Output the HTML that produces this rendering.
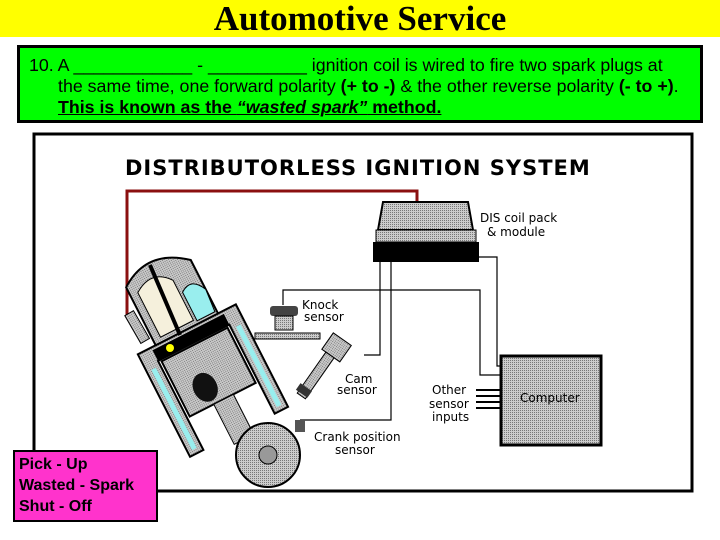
<!DOCTYPE html>
<html><head><meta charset="utf-8"><style>
body{margin:0;width:720px;height:540px;background:#fff;position:relative;overflow:hidden;font-family:"Liberation Sans",sans-serif}
#hdr{position:absolute;left:0;top:0;width:720px;height:37px;background:#ffff00;text-align:center;font-family:"Liberation Serif",serif;font-weight:bold;font-size:35px;line-height:38px}
#q{position:absolute;left:17px;top:45px;width:680px;height:72px;background:#00ff00;border:3px solid #000;font-size:17.8px;line-height:21px}
#q div{position:absolute;left:9px;top:7px;width:676px;white-space:nowrap}
#q span{padding-left:29px}
#pk{position:absolute;left:13px;top:450px;background:#ff33cc;border:2px solid #000;font-size:16px;line-height:21px;padding:2px 0 0 4px;box-sizing:border-box;width:145px;height:72px}
</style></head><body>
<div id="hdr">Automotive Service</div>
<div id="q"><div>10. A ____________ - __________ ignition coil is wired to fire two spark plugs at<br><span></span>the same time, one forward polarity <b>(+ to -)</b> &amp; the other reverse polarity <b>(- to +)</b>.<br><span></span><b><u>This is known as the <i>“wasted spark”</i> method.</u></b></div></div>
<svg width="720" height="540" style="position:absolute;left:0;top:0">
<defs><pattern id="g" width="2" height="2" patternUnits="userSpaceOnUse"><rect width="2" height="2" fill="#ccc"/><rect width="1" height="1" fill="#777"/></pattern></defs>
<rect x="34" y="134" width="658" height="357" fill="none" stroke="#000" stroke-width="3"/>
<text x="125" y="175" font-family="DejaVu Sans" font-weight="bold" font-size="21" letter-spacing="1">DISTRIBUTORLESS IGNITION SYSTEM</text>
<polyline points="127,315 127,191 417,191 417,206" fill="none" stroke="#8b1010" stroke-width="3"/>
<path d="M383,202 H468 L473,230 H378 Z" fill="url(#g)" stroke="#000" stroke-width="2"/>
<rect x="376" y="230" width="100" height="12" fill="url(#g)" stroke="#000"/>
<rect x="373" y="242" width="106" height="20" fill="#000"/>
<text x="480" y="222" font-size="12" font-family="DejaVu Sans">DIS coil pack</text>
<text x="487" y="236" font-size="12" font-family="DejaVu Sans">&amp; module</text>
<g fill="none" stroke="#000" stroke-width="1.2">
<polyline points="380,262 380,355 364,355"/>
<polyline points="391,262 391,420 300,420"/>
<polyline points="283,305 283,290 480,290 480,375 500,375"/>
<polyline points="476,257 497,257 497,366 500,366"/>
<line x1="476" y1="390" x2="500" y2="390" stroke-width="2"/><line x1="476" y1="396" x2="500" y2="396" stroke-width="2"/><line x1="476" y1="402" x2="500" y2="402" stroke-width="2"/><line x1="476" y1="408" x2="500" y2="408" stroke-width="2"/>
</g>
<rect x="501" y="356" width="100" height="89" fill="url(#g)" stroke="#000" stroke-width="3"/>
<text x="520" y="402" font-size="12" font-family="DejaVu Sans">Computer</text>
<text x="432" y="394" font-size="12" font-family="DejaVu Sans">Other</text>
<text x="429" y="408" font-size="12" font-family="DejaVu Sans">sensor</text>
<text x="432" y="421" font-size="12" font-family="DejaVu Sans">inputs</text>
<text x="302" y="309" font-size="12" font-family="DejaVu Sans">Knock</text>
<text x="304" y="321" font-size="12" font-family="DejaVu Sans">sensor</text>
<text x="345" y="383" font-size="12" font-family="DejaVu Sans">Cam</text>
<text x="337" y="394" font-size="12" font-family="DejaVu Sans">sensor</text>
<text x="314" y="441" font-size="12" font-family="DejaVu Sans">Crank position</text>
<text x="335" y="454" font-size="12" font-family="DejaVu Sans">sensor</text>
<rect x="270" y="306" width="28" height="10" rx="3" fill="#444"/><rect x="275" y="316" width="18" height="14" fill="url(#g)" stroke="#000"/>
<rect x="255" y="333" width="65" height="6" fill="url(#g)" stroke="#000"/>
<g transform="rotate(35 330 355)"><rect x="320" y="335" width="22" height="20" fill="url(#g)" stroke="#000"/><rect x="325" y="355" width="10" height="50" fill="url(#g)" stroke="#000"/><rect x="322" y="395" width="14" height="8" fill="#333"/></g>
<g transform="rotate(-27 205 365)">
<path d="M150,325 V440 H165 V340 H245 V440 H260 V325 Z" fill="url(#g)" stroke="#000" stroke-width="2"/>
<rect x="155" y="345" width="5" height="90" fill="#9ee"/><rect x="250" y="345" width="5" height="90" fill="#9ee"/>
<rect x="168" y="342" width="74" height="62" fill="url(#g)" stroke="#000" stroke-width="2"/>
<rect x="165" y="328" width="80" height="12" fill="#000"/>
<ellipse cx="195" cy="385" rx="12" ry="15" fill="#111"/>
<path d="M170,260 Q205,235 240,265 L240,325 H170 Z" fill="url(#g)" stroke="#000" stroke-width="2"/>
<path d="M178,270 Q200,255 215,275 L215,320 H178 Z" fill="#f5f0dc" stroke="#000"/>
<path d="M218,290 Q232,280 240,298 L238,322 H218 Z" fill="#9ee" stroke="#000"/>
<rect x="195" y="404" width="22" height="45" fill="url(#g)" stroke="#000"/>
</g>
<line x1="150" y1="265" x2="180" y2="335" stroke="#000" stroke-width="4"/>
<circle cx="170" cy="348" r="4" fill="#ff0"/>
<g transform="rotate(-30 140 330)"><rect x="134" y="310" width="10" height="32" fill="url(#g)" stroke="#000"/></g>
<circle cx="268" cy="455" r="32" fill="url(#g)" stroke="#000" stroke-width="2"/>
<circle cx="268" cy="455" r="9" fill="#999" stroke="#000"/>
<rect x="295" y="420" width="10" height="12" fill="#555"/>
</svg>
<div id="pk"><b>Pick - Up<br>Wasted - Spark<br>Shut - Off</b></div>
</body></html>
